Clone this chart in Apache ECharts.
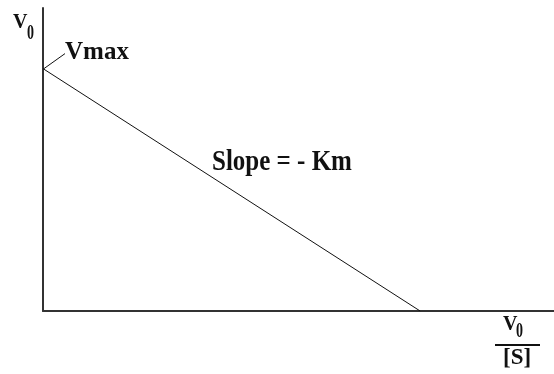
<!DOCTYPE html>
<html>
<head>
<meta charset="utf-8">
<script src="https://cdn.jsdelivr.net/npm/echarts@6/dist/echarts.min.js"></script>
<style>
  html, body { margin: 0; padding: 0; background: #fff; }
  #main { width: 554px; height: 374px; }
</style>
</head>
<body>
<div id="main"></div>
<script>
// Eadie-Hofstee: V0 against V0/[S]
const xValues = [0, 1.0];      // V0/[S]
const yValues = [1.0, 0];      // V0, starts at Vmax
const xMax = 1.355;
const yMax = 1.25;

const serif = '"Liberation Serif", "DejaVu Serif", serif';
const ink = '#111';
const chart = echarts.init(document.getElementById('main'));

const axisCommon = {
  type: 'value',
  min: 0,
  splitLine: { show: false },
  axisTick: { show: false },
  axisLabel: { show: false },
  axisLine: { show: true, lineStyle: { color: '#333', width: 2 } }
};

chart.setOption({
  animation: false,
  backgroundColor: '#fff',
  grid: { left: 43, top: 8, right: 0, bottom: 63 },
  xAxis: Object.assign({}, axisCommon, { max: xMax }),
  yAxis: Object.assign({}, axisCommon, { max: yMax }),
  series: [{
    type: 'line',
    data: xValues.map((x, i) => [x, yValues[i]]),
    symbol: 'none',
    lineStyle: { color: ink, width: 1 }
  }]
});

// small helper for bold serif text
function txt(str, x, y, size, extra) {
  return Object.assign({
    type: 'text', x: x, y: y,
    style: { text: str, font: 'bold ' + size + 'px ' + serif, fill: ink, verticalAlign: 'top' }
  }, extra || {});
}

// annotations anchored on the plotted points
const start = chart.convertToPixel({ gridIndex: 0 }, [xValues[0], yValues[0]]);
chart.setOption({
  graphic: [
    // V0 (y axis name)
    txt('V', 13, 12.5, 20),
    txt('0', 27, 23.5, 20, { scaleX: 0.7 }),
    // Vmax leader + label
    {
      type: 'line',
      shape: { x1: start[0] + 1, y1: start[1], x2: start[0] + 22, y2: start[1] - 15 },
      style: { stroke: ink, lineWidth: 1 }
    },
    txt('Vmax', start[0] + 22, start[1] - 29, 25),
    // slope label
    txt('Slope = - Km', 212, 148.5, 25, { scaleY: 1.15 }),
    // x axis name V0/[S]
    txt('V', 503, 314.5, 20),
    txt('0', 516, 321.5, 20, { scaleX: 0.7 }),
    {
      type: 'line',
      shape: { x1: 495, y1: 345, x2: 540, y2: 345 },
      style: { stroke: ink, lineWidth: 2 }
    },
    txt('[S]', 503, 347, 23)
  ]
});
</script>
</body>
</html>
